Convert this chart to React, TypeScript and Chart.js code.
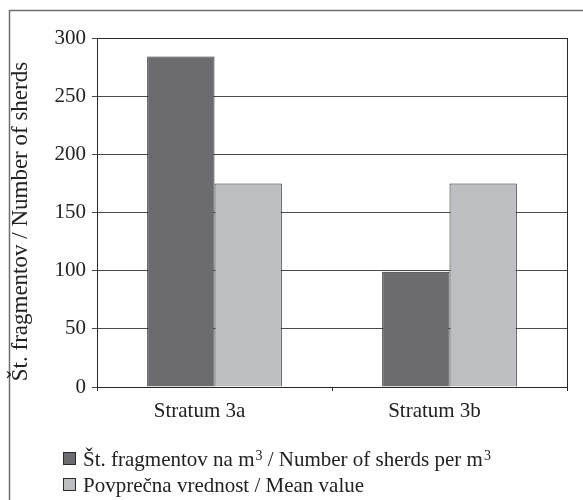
import React, { useEffect, useRef } from "react";
import { Chart, registerables } from "chart.js";

Chart.register(...registerables);

const categories = ["Stratum 3a", "Stratum 3b"];
const sherdsPerM3 = [284, 99];
const meanValue = [175, 175];
const yTicks = [0, 50, 100, 150, 200, 250, 300];
const seriesNames = ["Št. fragmentov na m|3| / Number of sherds per m|3|", "Povprečna vrednost / Mean value"];
const yTitle = "Št. fragmentov / Number of sherds";

const DARK = "#6b6b70";
const LIGHT = "#bdbec2";
const FONT = "'Liberation Serif', 'DejaVu Serif', serif";

const framePlugin = {
  id: "framePlugin",
  beforeDraw(chart: any) {
    const ctx = chart.ctx;
    ctx.save();
    ctx.strokeStyle = "#6e6e6e";
    ctx.lineWidth = 1.5;
    ctx.beginPath();
    ctx.moveTo(9.5, 500);
    ctx.lineTo(9.5, 10.5);
    ctx.lineTo(583, 10.5);
    ctx.stroke();
    ctx.restore();
  },
  afterDatasetsDraw(chart: any) {
    const { ctx, chartArea } = chart;
    ctx.save();
    ctx.strokeStyle = "#2a2a2a";
    ctx.lineWidth = 1;
    ctx.strokeRect(
      Math.round(chartArea.left) + 0.5,
      Math.round(chartArea.top) + 0.5,
      Math.round(chartArea.right - chartArea.left),
      Math.round(chartArea.bottom - chartArea.top)
    );
    ctx.restore();
  },
  afterDraw(chart: any) {
    const ctx = chart.ctx;
    const { chartArea } = chart;
    ctx.save();
    // y-axis title
    ctx.save();
    ctx.translate(21, (chartArea.top + chartArea.bottom) / 2 + 9);
    ctx.rotate(-Math.PI / 2);
    ctx.font = `23px ${FONT}`;
    ctx.fillStyle = "#222";
    ctx.textAlign = "center";
    ctx.textBaseline = "middle";
    ctx.fillText(yTitle, 0, 0);
    ctx.restore();
    // legend
    const colors = [DARK, LIGHT];
    const ys = [459, 485];
    seriesNames.forEach((name, i) => {
      const y = ys[i];
      ctx.fillStyle = colors[i];
      ctx.fillRect(63.5, y - 6.5, 12, 12);
      ctx.strokeStyle = "#2a2a2a";
      ctx.lineWidth = 1;
      ctx.strokeRect(63.5, y - 6.5, 12, 12);
      let x = 83;
      ctx.fillStyle = "#222";
      ctx.textBaseline = "alphabetic";
      ctx.textAlign = "left";
      const parts = name.split("|");
      parts.forEach((p, j) => {
        if (j % 2 === 1) {
          ctx.font = `14px ${FONT}`;
          ctx.fillText(p, x + 1, y + 1);
          x += ctx.measureText(p).width + 1;
        } else {
          ctx.font = `21px ${FONT}`;
          ctx.fillText(p, x, y + 7);
          x += ctx.measureText(p).width;
        }
      });
    });
    ctx.restore();
  },
};

export default function App() {
  const ref = useRef<HTMLCanvasElement>(null);
  useEffect(() => {
    const chart = new Chart(ref.current!, {
      type: "bar",
      data: {
        labels: categories,
        datasets: [
          {
            label: "Št. fragmentov na m³ / Number of sherds per m³",
            data: sherdsPerM3,
            backgroundColor: DARK,
            borderColor: "#2a2a2a",
            borderWidth: 1,
          },
          {
            label: "Povprečna vrednost / Mean value",
            data: meanValue,
            backgroundColor: LIGHT,
            borderColor: "#2a2a2a",
            borderWidth: 1,
          },
        ],
      },
      options: {
        animation: false,
        responsive: false,
        devicePixelRatio: 1,
        layout: { padding: { left: 0, top: 38, right: 16, bottom: 0 } },
        datasets: { bar: { barPercentage: 1, categoryPercentage: 0.573 } },
        plugins: {
          legend: { display: false },
          tooltip: { enabled: false },
          title: { display: false },
        },
        scales: {
          x: {
            grid: {
              offset: true,
              drawOnChartArea: false,
              color: "#2a2a2a",
              tickLength: 4,
            },
            border: { display: false },
            ticks: {
              color: "#222",
              font: { family: FONT, size: 21 },
              padding: 8,
              labelOffset: -15,
            },
            afterFit(scale: any) {
              scale.height = 113;
            },
          },
          y: {
            min: 0,
            max: 300,
            afterBuildTicks(scale: any) {
              scale.ticks = yTicks.map((v) => ({ value: v }));
            },
            grid: { color: "#4a4a4a", tickLength: 5 },
            border: { display: false },
            ticks: {
              color: "#222",
              font: { family: FONT, size: 21 },
              padding: 6,
            },
            afterFit(scale: any) {
              scale.width = 97;
            },
          },
        },
      },
      plugins: [framePlugin],
    });
    return () => chart.destroy();
  }, []);
  return (
    <div style={{ position: "absolute", left: 0, top: 0, width: 583, height: 500, background: "#fff" }}>
      <canvas ref={ref} width={583} height={500} style={{ display: "block" }} />
    </div>
  );
}
